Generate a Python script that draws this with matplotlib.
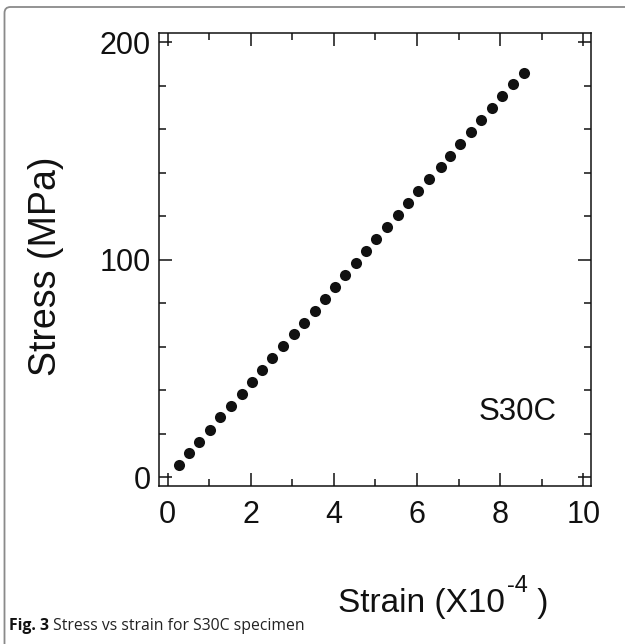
import matplotlib
matplotlib.use("Agg")
import matplotlib.pyplot as plt
from matplotlib.path import Path
from matplotlib.patches import PathPatch
from matplotlib.ticker import MultipleLocator

strain = [0.28, 0.52, 0.76, 1.02, 1.26, 1.53, 1.78, 2.03, 2.28, 2.52, 2.78, 3.03,
          3.28, 3.54, 3.78, 4.03, 4.28, 4.53, 4.77, 5.02, 5.29, 5.54, 5.78, 6.03,
          6.30, 6.58, 6.80, 7.03, 7.29, 7.55, 7.80, 8.04, 8.31, 8.57]
stress = [5.7, 11.2, 16.4, 21.9, 27.5, 32.9, 38.2, 43.6, 49.1, 54.7, 60.2, 65.7,
          71.1, 76.6, 82.0, 87.4, 92.9, 98.4, 104.0, 109.4, 114.9, 120.4, 125.9, 131.5,
          136.9, 142.4, 147.7, 153.1, 158.7, 164.2, 169.6, 175.1, 180.6, 186.0]
x_ticks = [0, 2, 4, 6, 8, 10]
y_ticks = [0, 100, 200]
specimen = "S30C"
xlabel_parts = ["Strain (X10", "-4", " )"]
ylabel = "Stress (MPa)"
caption_bold = "Fig. 3"
caption_rest = " Stress vs strain for S30C specimen"

plt.rcParams['font.family'] = ['Liberation Sans', 'DejaVu Sans']

W, H = 625, 644
fig = plt.figure(figsize=(W / 100, H / 100), dpi=100)
ink = '#111111'

# outer border (top and left, rounded corner)
bx, by, r = 4.5, H - 7.0, 6.0
verts = [(bx / W, 0.0), (bx / W, (by - r) / H), (bx / W, by / H), ((bx + r) / W, by / H), (1.0, by / H)]
codes = [Path.MOVETO, Path.LINETO, Path.CURVE3, Path.CURVE3, Path.LINETO]
fig.patches.append(PathPatch(Path(verts, codes), transform=fig.transFigure,
                             fill=False, edgecolor='#8a8a8a', linewidth=1.3))

left, right, top, bottom = 159.3, 590.7, 32.7, 486.0
ax = fig.add_axes([left / W, (H - bottom) / H, (right - left) / W, (bottom - top) / H])

ax.plot(strain, stress, 'o', color=ink, markersize=8, markeredgewidth=0)

ax.set_xlim(-0.2, 10.18)
ax.set_ylim(-4, 204.3)
ax.set_xticks(x_ticks)
ax.set_yticks(y_ticks)
ax.xaxis.set_minor_locator(MultipleLocator(1))
ax.yaxis.set_minor_locator(MultipleLocator(20))
ax.tick_params(which='both', direction='in', top=True, right=True, width=1.1, color=ink)
ax.tick_params(which='major', length=9.5, labelsize=22, labelcolor=ink)
ax.tick_params(which='minor', length=5)
ax.tick_params(axis='x', which='major', pad=10)
ax.tick_params(axis='y', which='major', pad=6)
for s in ax.spines.values():
    s.set_linewidth(1.1)
    s.set_color(ink)

ax.text(8.42, 30, specimen, ha='center', va='center', fontsize=22.5, color=ink)

# x label with raised "-4"
fig.canvas.draw()
renderer = fig.canvas.get_renderer()
base_y = 1 - 612 / H
x0 = 338
ta = fig.text(x0 / W, base_y, xlabel_parts[0], ha='left', va='baseline', fontsize=24, color=ink)
ea = ta.get_window_extent(renderer)
tb = fig.text((ea.x1 + 2) / W, base_y + 20 / H, xlabel_parts[1], ha='left', va='baseline',
              fontsize=17, color=ink)
eb = tb.get_window_extent(renderer)
fig.text(eb.x1 / W, base_y, xlabel_parts[2], ha='left', va='baseline', fontsize=24, color=ink)

fig.text(46 / W, 1 - 266 / H, ylabel, ha='center', va='center', rotation=90,
         fontsize=27, color=ink)

cap_font = ['Open Sans', 'DejaVu Sans']
cap_y = 1 - 630 / H
t1 = fig.text(9 / W, cap_y, caption_bold, ha='left', va='baseline', fontsize=11.3,
              fontweight='bold', family=cap_font, color=ink)
bb = t1.get_window_extent(renderer)
fig.text(bb.x1 / W, cap_y, caption_rest, ha='left', va='baseline', fontsize=11.3,
         family=cap_font, color='#222222')

fig.savefig("out.png", dpi=100)
